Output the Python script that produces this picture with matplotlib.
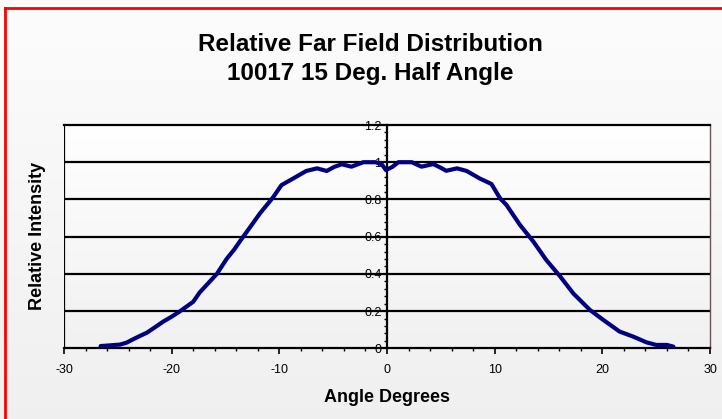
import numpy as np
import matplotlib
matplotlib.use("Agg")
import matplotlib.pyplot as plt
from matplotlib.lines import Line2D
from matplotlib.ticker import MultipleLocator

# ---- data ----
angle = [-26.6, -25.9, -24.8, -24.2, -23.7, -23.0, -22.3, -21.5, -20.8, -20.0,
         -19.2, -18.0, -17.4, -16.6, -15.8, -14.9, -14.2, -13.6, -12.9, -11.8,
         -10.6, -9.8, -8.7, -7.5, -6.5, -5.6, -4.9, -4.2, -3.3, -2.2, -1.1,
         -0.5, -0.1,
         0.5, 1.05, 2.3, 3.2, 4.3, 5.0, 5.5, 6.5, 7.4, 8.6, 9.7, 10.5, 11.1,
         12.35, 13.6, 14.8, 16.1, 17.3, 18.85, 20.1, 21.6, 22.9, 24.1, 25.0,
         26.0, 26.6]
intensity = [0.012, 0.015, 0.02, 0.03, 0.045, 0.065, 0.084, 0.115, 0.143, 0.17,
             0.2, 0.25, 0.30, 0.35, 0.40, 0.48, 0.53, 0.58, 0.636, 0.725,
             0.81, 0.877, 0.913, 0.953, 0.967, 0.953, 0.975, 0.989, 0.976, 1.0, 1.0,
             0.99, 0.958,
             0.975, 1.0, 1.0, 0.976, 0.99, 0.97, 0.954, 0.967, 0.953, 0.913, 0.883,
             0.806, 0.77, 0.663, 0.573, 0.474, 0.385, 0.295, 0.206, 0.152, 0.09,
             0.062, 0.032, 0.018, 0.018, 0.009]
x_ticks = [-30, -20, -10, 0, 10, 20, 30]
y_ticks = [0, 0.2, 0.4, 0.6, 0.8, 1.0, 1.2]
y_tick_labels = ["0", "0.2", "0.4", "0.6", "0.8", "1", "1.2"]

title = "Relative Far Field Distribution\n10017 15 Deg. Half Angle"
xlabel = "Angle Degrees"
ylabel = "Relative Intensity"

plt.rcParams['font.family'] = ['Liberation Sans', 'DejaVu Sans']

W, H = 722, 419
fig = plt.figure(figsize=(W / 100, H / 100), dpi=100)

# figure background gradient
bg = fig.add_axes([0, 0, 1, 1], zorder=-10)
grad = np.linspace(0.99, 0.94, 256).reshape(-1, 1)
bg.imshow(np.dstack([grad, grad, grad]), aspect='auto', extent=[0, 1, 0, 1],
          origin='upper')
bg.set_axis_off()

# red border (left & top)
fig.add_artist(Line2D([5 / W, 5 / W], [0, 1 - 8 / H], color='#ff0000', lw=2,
                      transform=fig.transFigure))
fig.add_artist(Line2D([5 / W, 1], [1 - 8 / H, 1 - 8 / H], color='#ff0000', lw=2,
                      transform=fig.transFigure))

left, right, top, bottom = 64, 710, 125, 348.3
ax = fig.add_axes([left / W, 1 - bottom / H, (right - left) / W, (bottom - top) / H])
ax.set_facecolor('none')

# plot area gradient
pg = np.linspace(1.0, 0.945, 256).reshape(-1, 1)
ax.imshow(np.dstack([pg, pg, pg]), aspect='auto', extent=[0, 1, 0, 1],
          transform=ax.transAxes, origin='upper', zorder=0)

ax.set_xlim(-30, 30)
ax.set_ylim(0, 1.2)

for yv in y_ticks[1:-1]:
    ax.axhline(yv, color='black', lw=1.6, zorder=1)

ax.plot(angle, intensity, color='#000080', lw=3.0, solid_capstyle='round',
        solid_joinstyle='round', zorder=3)

# spines
ax.spines['left'].set_position(('data', 0))
ax.spines['left'].set_linewidth(1.6)
ax.spines['top'].set_linewidth(1.6)
ax.spines['bottom'].set_linewidth(1.6)
ax.spines['right'].set_linewidth(1.0)
ax.spines['right'].set_color('#6b5555')
ax.add_line(Line2D([0, 0], [0, 1], color='black', lw=1.6,
                   transform=ax.transAxes, zorder=2))

ax.set_xticks(x_ticks)
ax.set_xticklabels([str(v) for v in x_ticks])
ax.xaxis.set_minor_locator(MultipleLocator(2))
ax.set_yticks(y_ticks)
ax.set_yticklabels(y_tick_labels)
ax.yaxis.set_minor_locator(MultipleLocator(0.04))

ax.tick_params(axis='x', which='major', direction='out', length=4, width=1.2,
               labelsize=9, pad=7)
ax.tick_params(axis='x', which='minor', direction='out', length=2.5, width=1)
ax.tick_params(axis='y', which='major', direction='out', length=3, width=1.2,
               labelsize=9, pad=1)
ax.tick_params(axis='y', which='minor', direction='out', length=2.5, width=1)

fig.text(387 / W, 1 - 397 / H, xlabel, fontsize=13, fontweight='bold',
         ha='center', va='center')
fig.text(38 / W, 1 - 236 / H, ylabel, rotation=90, fontsize=13,
         fontweight='bold', ha='center', va='center')
fig.text(370 / W, 1 - 59 / H, title, fontsize=17.5, fontweight='bold',
         ha='center', va='center', linespacing=1.3)

fig.savefig('out.png', dpi=100)
